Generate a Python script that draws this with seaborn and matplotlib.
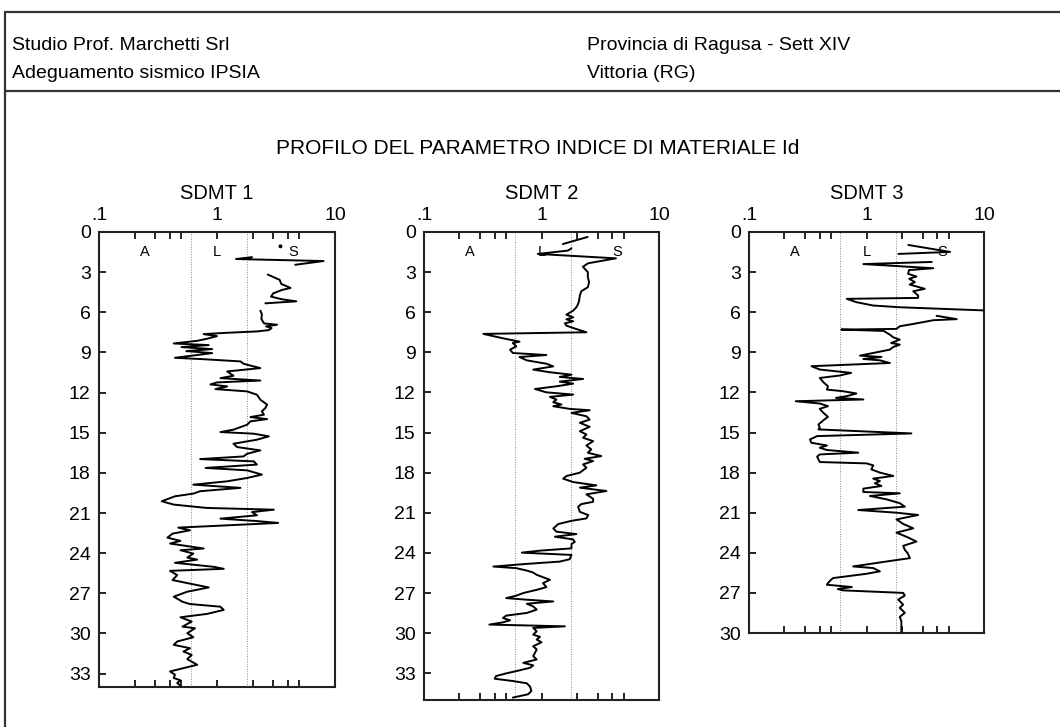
import numpy as np
import pandas as pd
import seaborn as sns
import matplotlib.pyplot as plt
from matplotlib.lines import Line2D
from matplotlib.ticker import FixedLocator, FixedFormatter

sns.set_theme(style="white")
plt.rcParams["font.family"] = ["Liberation Sans", "DejaVu Sans"]

nan = np.nan

# ---- Material index Id profiles (depth in m, Id dimensionless); NaN = gap in record
sdmt1_depth = [1.88, 2.02, 2.17, 2.45, nan,
               3.18, 3.38, 3.58, 3.88, 4.18, 4.33, 4.58, 4.83, 5.03, 5.18, 5.33, nan,
               5.88, 6.13, 6.50, 6.83, 6.93, 7.05, 7.18, 7.33, 7.43, 7.53, 7.63, 7.78, 7.98, 8.13,
               8.33, 8.45, 8.60, 8.75, 8.90, 9.05, 9.40, 9.50, 9.67, 9.85, 10.17, 10.42, 10.74,
               10.92, 11.10, 11.24, 11.39, 11.54, 11.74, 11.91, 12.16, 12.53, 12.90, 13.15, 13.40,
               13.65, 13.83, 13.98, 14.15, 14.40, 14.77, 14.95, 15.07, 15.27, 15.52, 15.82, 16.07,
               16.32, 16.57, 16.77, 16.97, 17.14, 17.38, 17.63, 17.81, 18.13, 18.38, 18.63, 18.88,
               19.12, 19.37, 19.55, 19.75, 20.12, 20.37, 20.62, 20.75, 20.93, 21.17, 21.42, 21.60,
               21.74, 21.99, 22.09, 22.29, 22.54, 22.84, 23.08, 23.28, 23.65, 23.78, 24.03, 24.33,
               24.48, 24.72, 25.02, 25.17, 25.32, 25.64, 26.01, 26.56, 26.88, 27.25, 27.63, 27.80,
               28.00, 28.24, 28.54, 28.79, 29.11, 29.49, 29.61, 29.98, 30.28, 30.60, 30.85, 31.10,
               31.35, 31.60, 31.92, 32.34, 32.59, 32.84, 33.08, 33.33, 33.50, 33.71, 33.90]
sdmt1_id = [1.98, 1.45, 8.00, 4.60, nan,
            2.69, 3.03, 3.40, 3.50, 4.20, 3.56, 3.00, 2.87, 3.56, 4.70, 2.57, nan,
            2.33, 2.40, 2.38, 2.50, 3.23, 2.60, 2.90, 2.75, 2.18, 1.22, 0.77, 1.00, 0.82, 0.68,
            0.43, 0.85, 0.50, 0.91, 0.55, 0.91, 0.44, 0.75, 1.58, 1.68, 2.33, 1.22, 1.38,
            1.07, 2.33, 1.00, 0.88, 1.22, 0.97, 1.80, 2.18, 2.33, 2.66, 2.57, 2.40,
            2.50, 1.92, 2.66, 1.92, 1.80, 1.38, 1.07, 2.05, 2.75, 2.18, 1.38, 1.48,
            2.33, 1.80, 1.68, 0.72, 2.05, 2.18, 0.80, 1.80, 2.40, 1.80, 1.22, 0.63,
            1.58, 0.72, 0.63, 0.44, 0.34, 0.43, 0.82, 3.03, 1.98, 2.18, 1.07, 2.18,
            3.30, 0.82, 0.47, 0.59, 0.42, 0.38, 0.49, 0.40, 0.77, 0.49, 0.63, 0.56,
            0.68, 0.44, 0.94, 1.14, 0.40, 0.46, 0.42, 0.85, 0.56, 0.43, 0.51, 0.59,
            1.07, 1.14, 0.82, 0.49, 0.61, 0.51, 0.65, 0.56, 0.63, 0.46, 0.43, 0.59,
            0.52, 0.61, 0.56, 0.68, 0.52, 0.40, 0.44, 0.43, 0.49, 0.46, 0.49]
sdmt1_point_depth = [1.07]
sdmt1_point_id = [3.45]

sdmt2_depth = [0.37, 0.90, nan,
               1.22, 1.39, 1.64, 1.97, 2.34, 2.60, 3.00, 3.38, 3.75, 4.13, 4.43, 4.75, 5.13, 5.38,
               5.63, 5.88, 6.18, 6.38, 6.53, 6.68, 6.83, 7.00, 7.18, 7.50, 7.62, 7.95, 8.10, 8.20,
               8.30, 8.55, 8.80, 9.05, 9.20, 9.35, 9.60, 9.85, 10.05, 10.29, 10.49, 10.67, 10.84,
               10.99, 11.19, 11.34, 11.54, 11.74, 11.99, 12.16, 12.33, 12.53, 12.73, 12.90, 13.03,
               13.23, 13.33, 13.53, 13.78, 14.03, 14.27, 14.57, 14.90, 15.14, 15.39, 15.64, 15.97,
               16.26, 16.51, 16.76, 16.96, 17.13, 17.38, 17.63, 18.00, 18.25, 18.45, 18.70, 18.95,
               19.12, 19.37, 19.62, 19.95, 20.18, 20.35, 20.55, 20.93, 21.17, 21.42, 21.60, 21.84,
               22.17, 22.41, 22.59, 22.79, 22.99, 23.18, 23.33, 23.66, 23.83, 23.98, 24.15, 24.47,
               24.65, 24.82, 25.02, 25.14, 25.32, 25.47, 25.64, 26.01, 26.26, 26.56, 26.76, 27.00,
               27.20, 27.38, 27.50, 27.63, 27.80, 28.00, 28.24, 28.49, 28.69, 28.87, 29.04, 29.19,
               29.36, 29.49, 29.61, 29.86, 30.11, 30.28, 30.48, 30.68, 30.98, 31.22, 31.47, 31.72,
               31.97, 32.22, 32.41, 32.59, 32.84, 33.01, 33.21, 33.41, 33.58, 33.75, 34.00, 34.33,
               34.57, 34.82]
sdmt2_id = [2.47, 1.52, nan,
            1.80, 1.68, 0.93, 4.30, 2.49, 2.25, 2.48, 2.48, 2.54, 2.48, 2.18, 2.12, 2.09, 2.05,
            1.98, 1.86, 1.63, 1.86, 1.63, 1.86, 1.58, 1.63, 1.86, 2.41, 0.32, 0.47, 0.57, 0.65,
            0.57, 0.61, 0.54, 0.57, 1.10, 0.65, 0.75, 1.10, 1.26, 0.85, 1.18, 1.80, 1.43,
            2.26, 1.43, 1.86, 1.34, 0.88, 1.10, 1.86, 1.18, 1.34, 1.26, 1.48, 1.26,
            1.74, 2.57, 1.80, 2.41, 2.57, 2.12, 2.57, 2.12, 2.41, 2.26, 2.75, 2.41,
            2.65, 2.48, 3.23, 2.33, 2.75, 2.26, 2.41, 2.12, 1.63, 1.53, 1.86, 2.93,
            2.12, 3.57, 2.41, 2.75, 2.75, 2.18, 2.05, 2.12, 2.50, 2.41, 1.80, 1.39,
            1.26, 1.34, 1.98, 1.30, 1.86, 1.92, 1.80, 1.80, 0.97, 0.68, 1.80, 1.74,
            1.43, 0.75, 0.39, 0.61, 0.75, 0.85, 0.91, 1.18, 1.03, 1.10, 0.91, 0.70,
            0.61, 0.50, 0.75, 1.26, 0.75, 0.85, 0.91, 0.75, 0.50, 0.47, 0.54, 0.47,
            0.36, 1.58, 0.85, 0.91, 0.85, 0.97, 0.91, 1.00, 0.85, 0.91, 0.88, 0.85,
            0.91, 0.70, 0.85, 0.80, 0.61, 0.50, 0.41, 0.40, 0.57, 0.75, 0.80, 0.82,
            0.77, 0.57]

sdmt3_depth = [0.97, 1.49, 1.64, nan,
               2.24, 2.40, 2.71, 2.85, 3.13, 3.33, 3.50, 3.75, 3.93, 4.25, 4.43, 4.75, 4.93, 5.00,
               5.25, 5.50, 5.63, 5.88, nan,
               6.27, 6.52, 6.60, 6.88, 7.05, 7.25, 7.30, 7.40, 7.68, 7.88, 8.05, 8.30, 8.43, 8.60,
               8.80, 9.05, 9.25, 9.35, 9.50, 9.60, 9.80, 10.04, 10.29, 10.54, 10.74, 10.92, 11.24,
               11.54, 11.79, 11.91, 12.08, 12.28, 12.41, 12.53, 12.66, 12.83, 13.03, 13.23, 13.53,
               13.83, 14.08, 14.40, 14.65, 14.77, 15.07, 15.27, 15.52, 15.77, 15.97, 16.14, 16.31,
               16.51, 16.64, 16.81, 17.01, 17.21, 17.31, 17.46, 17.76, 18.00, 18.25, 18.45, 18.63,
               18.80, 19.00, 19.20, 19.45, 19.55, 19.75, 20.00, 20.29, 20.55, 20.80, 21.00, 21.17,
               21.50, 21.84, 22.17, 22.49, 22.84, 23.16, 23.48, 23.78, 24.03, 24.40, 24.65, 25.02,
               25.14, 25.39, 25.57, 25.89, 26.01, 26.26, 26.39, 26.56, 26.71, 26.81, 27.00, 27.20,
               27.50, 27.87, 28.12, 28.49, 28.79, 29.11, 29.49, 29.93]
sdmt3_id = [2.27, 5.14, 1.87, nan,
            3.59, 0.94, 3.70, 2.30, 2.26, 2.66, 2.31, 2.58, 2.33, 3.13, 2.50, 2.75, 2.75, 0.68,
            0.82, 1.14, 1.92, 11.0, nan,
            3.95, 5.86, 3.70, 2.50, 1.92, 1.80, 0.61, 1.40, 1.58, 1.69, 1.92, 1.62, 1.92, 1.69,
            1.58, 1.14, 0.88, 1.34, 0.94, 1.30, 1.58, 0.34, 0.40, 0.74, 0.59, 0.40, 0.43,
            0.47, 0.46, 0.63, 0.82, 0.68, 0.55, 0.94, 0.25, 0.40, 0.47, 0.40, 0.43,
            0.47, 0.43, 0.39, 0.40, 0.39, 2.41, 0.38, 0.33, 0.34, 0.46, 0.40, 0.46,
            0.85, 0.40, 0.38, 0.39, 0.40, 1.00, 1.14, 1.10, 1.30, 1.69, 1.14, 1.30,
            1.18, 1.34, 0.94, 0.94, 1.92, 1.07, 1.48, 1.92, 2.12, 0.85, 1.80, 2.75,
            1.80, 2.05, 2.50, 1.80, 2.24, 2.66, 2.05, 2.12, 2.24, 2.34, 1.48, 0.77,
            1.14, 1.30, 1.00, 0.52, 0.50, 0.47, 0.46, 0.75, 0.57, 0.63, 2.05, 2.12,
            1.86, 2.05, 1.92, 2.12, 1.92, 1.98, 1.98, 1.98]

panel_titles = ["SDMT 1", "SDMT 2", "SDMT 3"]
panel_max_depth = [34, 35, 30]
x_major = [0.1, 1, 10]
x_major_labels = [".1", "1", "10"]
x_minor = [0.2, 0.3, 0.4, 0.5, 2, 3, 4, 5]
class_bounds = [0.6, 1.8]
class_labels = ["A", "L", "S"]
class_label_id = [0.245, 1.0, 4.4]
class_label_depth = 1.5


def to_frame(depth, idv):
    df = pd.DataFrame({"depth": depth, "Id": idv})
    df["seg"] = df["Id"].isna().cumsum()
    return df.dropna()


profiles = [to_frame(sdmt1_depth, sdmt1_id),
            to_frame(sdmt2_depth, sdmt2_id),
            to_frame(sdmt3_depth, sdmt3_id)]

W, H = 1060, 727
fig = plt.figure(figsize=(W / 100, H / 100), dpi=100)
fig.patch.set_facecolor("white")

# axes boxes in pixels: left, top, right, bottom
boxes = [(99, 232, 335, 687), (424, 232, 659, 700), (749, 232, 984, 633)]

for k, (box, df) in enumerate(zip(boxes, profiles)):
    l, t, r, b = box
    ax = fig.add_axes([l / W, 1 - b / H, (r - l) / W, (b - t) / H])
    ax.set_facecolor("white")
    ax.set_xscale("log")
    ax.set_xlim(0.1, 10)
    ax.set_ylim(panel_max_depth[k], 0)

    for v in class_bounds:
        ax.axvline(v, color="#8a8a8a", lw=0.7, ls=(0, (1, 1.6)), zorder=1)

    sns.lineplot(data=df, x="Id", y="depth", units="seg", estimator=None, sort=False,
                 color="black", lw=1.4, ax=ax, zorder=3)
    if k == 0:
        sns.scatterplot(x=sdmt1_point_id, y=sdmt1_point_depth, color="black", s=8,
                        edgecolor="none", ax=ax, zorder=3)

    for lab, xv in zip(class_labels, class_label_id):
        ax.text(xv, class_label_depth, lab, ha="center", va="center", fontsize=10.5,
                color="black", zorder=2)

    ax.xaxis.set_major_locator(FixedLocator(x_major))
    ax.xaxis.set_major_formatter(FixedFormatter(x_major_labels))
    ax.xaxis.set_minor_locator(FixedLocator(x_minor))
    ax.xaxis.set_minor_formatter(FixedFormatter([""] * len(x_minor)))
    ax.set_yticks(np.arange(0, panel_max_depth[k] + 0.1, 3))
    ax.set_yticklabels([f"{int(v)}" for v in np.arange(0, panel_max_depth[k] + 0.1, 3)])

    ax.tick_params(axis="x", which="both", direction="in", top=True, bottom=True,
                   labeltop=True, labelbottom=False, length=5, width=1.2, color="black",
                   labelsize=14, pad=6)
    ax.tick_params(axis="y", which="both", direction="in", left=True, right=False,
                   length=5, width=1.2, color="black", labelsize=14, pad=6)
    for lbl in ax.get_xticklabels() + ax.get_yticklabels():
        lbl.set_color("black")
    for sp in ax.spines.values():
        sp.set_visible(True)
        sp.set_color("#222222")
        sp.set_linewidth(1.5)
    ax.set_xlabel("")
    ax.set_ylabel("")
    ax.annotate(panel_titles[k], xy=(0.5, 1), xycoords="axes fraction",
                xytext=(0, 27.5), textcoords="offset points", ha="center", va="center",
                fontsize=14.5, color="black")

# header block and frame
fig.text(12 / W, 1 - 46 / H, "Studio Prof. Marchetti Srl", ha="left", va="center",
         fontsize=14, color="black")
fig.text(12 / W, 1 - 73 / H, "Adeguamento sismico IPSIA", ha="left", va="center",
         fontsize=14, color="black")
fig.text(587 / W, 1 - 46 / H, "Provincia di Ragusa - Sett XIV", ha="left", va="center",
         fontsize=14, color="black")
fig.text(587 / W, 1 - 73 / H, "Vittoria (RG)", ha="left", va="center",
         fontsize=14, color="black")
fig.text(538 / W, 1 - 149 / H, "PROFILO DEL PARAMETRO INDICE DI MATERIALE Id",
         ha="center", va="center", fontsize=15, color="black")

frame_kw = dict(transform=fig.transFigure, color="#333333", lw=1.6)
fig.add_artist(Line2D([5 / W, 1], [1 - 12 / H, 1 - 12 / H], **frame_kw))
fig.add_artist(Line2D([5 / W, 1], [1 - 91 / H, 1 - 91 / H], **frame_kw))
fig.add_artist(Line2D([5 / W, 5 / W], [1 - 12 / H, 0], **frame_kw))

fig.savefig("out.png", dpi=100, facecolor="white")
